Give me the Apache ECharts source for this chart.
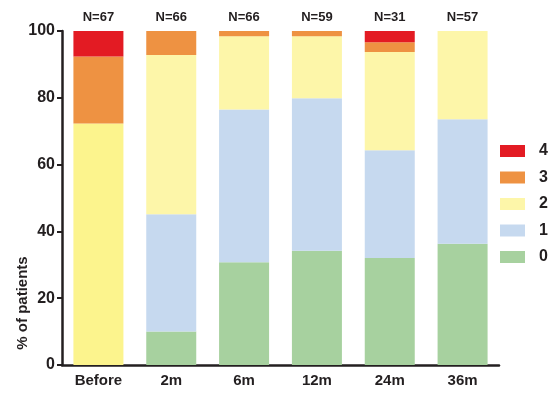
<!DOCTYPE html>
<html>
<head>
<meta charset="utf-8">
<script src="https://cdn.jsdelivr.net/npm/echarts@6/dist/echarts.min.js"></script>
<style>
  html, body { margin: 0; padding: 0; background: #fff; }
  #main { width: 558px; height: 398px; }
</style>
</head>
<body>
<div id="main"></div>
<script>
// categories and sample sizes
var categories = ["Before", "2m", "6m", "12m", "24m", "36m"];
var nLabels = ["N=67", "N=66", "N=66", "N=59", "N=31", "N=57"];

// percent of patients per grade
var grade0 = [0, 10.0, 30.8, 34.2, 32.0, 36.3];
var grade1 = [0, 35.1, 45.7, 45.7, 32.3, 37.3];
var grade2 = [72.3, 47.7, 21.9, 18.5, 29.4, 26.4];
var grade3 = [20.1, 7.2, 1.6, 1.6, 2.9, 0];
var grade4 = [7.6, 0, 0, 0, 3.4, 0];

var yTicks = { min: 0, max: 100, interval: 20 };

var colors = {
  "0": "#a7d19f",
  "1": "#c6d9ef",
  "2": "#fdf6a9",
  "3": "#ee9242",
  "4": "#e31b23"
};
var ink = "#231f20";
var font = "Liberation Sans";

var myChart = echarts.init(document.getElementById("main"));

function mkSeries(name, values) {
  return {
    name: name,
    type: "bar",
    stack: "total",
    barWidth: 50,
    itemStyle: { color: colors[name] },
    data: values.map(function (v, i) {
      // the "Before" yellow is a bit stronger in the original
      if (name === "2" && i === 0) {
        return { value: v, itemStyle: { color: "#fcf48d" } };
      }
      return v;
    })
  };
}

var option = {
  animation: false,
  grid: { left: 62, right: 59, top: 31, bottom: 33 },
  legend: {
    data: ["4", "3", "2", "1", "0"],
    orient: "vertical",
    left: 495,
    top: 138,
    itemWidth: 25,
    itemHeight: 12,
    itemGap: 10.5,
    icon: "rect",
    textStyle: { color: ink, fontSize: 16, fontWeight: "bold", fontFamily: font, padding: [0, 0, 0, 9] }
  },
  xAxis: [
    {
      type: "category",
      data: categories,
      axisLine: { lineStyle: { color: ink, width: 2.5 } },
      axisTick: { alignWithLabel: true, length: 5, lineStyle: { color: ink, width: 2 } },
      axisLabel: { color: ink, fontSize: 15, fontWeight: "bold", fontFamily: font, margin: 8 }
    },
    {
      type: "category",
      position: "top",
      data: nLabels,
      axisLine: { show: false },
      axisTick: { show: false },
      axisLabel: { color: ink, fontSize: 13, fontWeight: "bold", fontFamily: font, margin: 7 }
    }
  ],
  yAxis: {
    type: "value",
    min: yTicks.min,
    max: yTicks.max,
    interval: yTicks.interval,
    splitLine: { show: false },
    axisLine: { show: true, lineStyle: { color: ink, width: 2.5 } },
    axisTick: { show: true, length: 5, lineStyle: { color: ink, width: 2 } },
    axisLabel: { color: ink, fontSize: 16, fontWeight: "bold", fontFamily: font, margin: 7 }
  },
  graphic: [
    {
      type: "text",
      x: 15,
      y: 303,
      rotation: Math.PI / 2,
      style: {
        text: "% of patients",
        fill: ink,
        font: "bold 15px " + font,
        textAlign: "center",
        textVerticalAlign: "top"
      }
    }
  ],
  series: [
    mkSeries("0", grade0),
    mkSeries("1", grade1),
    mkSeries("2", grade2),
    mkSeries("3", grade3),
    mkSeries("4", grade4)
  ]
};

myChart.setOption(option);
</script>
</body>
</html>
